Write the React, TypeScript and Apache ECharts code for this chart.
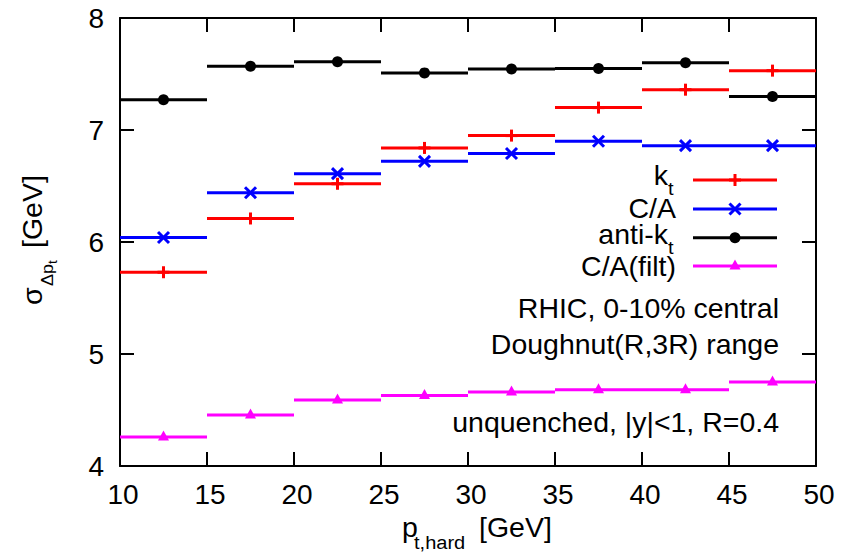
import React, { useEffect, useRef } from "react";
import * as echarts from "echarts";

const binLow = [10, 15, 20, 25, 30, 35, 40, 45];
const binHigh = [15, 20, 25, 30, 35, 40, 45, 50];
const ktValues = [5.73, 6.21, 6.52, 6.84, 6.95, 7.2, 7.36, 7.53];
const caValues = [6.04, 6.44, 6.61, 6.72, 6.79, 6.9, 6.86, 6.86];
const antiKtValues = [7.27, 7.57, 7.61, 7.51, 7.545, 7.55, 7.6, 7.3];
const caFiltValues = [4.26, 4.455, 4.59, 4.63, 4.66, 4.68, 4.68, 4.75];

const FONT = '"Liberation Sans", Arial, sans-serif';
const FS = 27;
const SUB = 19;
const STRETCH = 1.055;

type Marker = "plus" | "cross" | "circle" | "triangle";

function markerEls(kind: Marker, cx: number, cy: number, color: string): any[] {
  const lw = 3;
  if (kind === "plus") {
    return [
      { type: "line", shape: { x1: cx - 6, y1: cy, x2: cx + 6, y2: cy }, style: { stroke: color, lineWidth: lw } },
      { type: "line", shape: { x1: cx, y1: cy - 6, x2: cx, y2: cy + 6 }, style: { stroke: color, lineWidth: lw } },
    ];
  }
  if (kind === "cross") {
    const h = 5.5;
    return [
      { type: "line", shape: { x1: cx - h, y1: cy - h, x2: cx + h, y2: cy + h }, style: { stroke: color, lineWidth: lw } },
      { type: "line", shape: { x1: cx - h, y1: cy + h, x2: cx + h, y2: cy - h }, style: { stroke: color, lineWidth: lw } },
    ];
  }
  if (kind === "circle") {
    return [{ type: "circle", shape: { cx, cy, r: 5.5 }, style: { fill: color } }];
  }
  return [
    {
      type: "polygon",
      shape: { points: [[cx, cy - 6.5], [cx - 5.5, cy + 3.5], [cx + 5.5, cy + 3.5]] },
      style: { fill: color },
    },
  ];
}

function makeSeries(name: string, values: number[], color: string, kind: Marker) {
  return {
    type: "custom",
    name,
    xAxisIndex: 0,
    yAxisIndex: 0,
    data: values.map((v, i) => [binLow[i], binHigh[i], v]),
    encode: { x: [0, 1], y: 2 },
    renderItem: (params: any, api: any) => {
      const p1 = api.coord([api.value(0), api.value(2)]);
      const p2 = api.coord([api.value(1), api.value(2)]);
      const cx = (p1[0] + p2[0]) / 2;
      const cy = p1[1];
      return {
        type: "group",
        children: [
          { type: "line", shape: { x1: p1[0], y1: cy, x2: p2[0], y2: cy }, style: { stroke: color, lineWidth: 3 } },
          ...markerEls(kind, cx, cy, color),
        ],
      };
    },
  };
}

function txt(text: string, x: number, y: number, size: number, align: string = "left"): any {
  return {
    type: "text",
    x,
    y,
    scaleX: STRETCH,
    style: { text, fill: "#000", fontSize: size, fontFamily: FONT, align, verticalAlign: "middle" },
  };
}

function legendSample(y: number, color: string, kind: Marker): any {
  return {
    type: "group",
    children: [
      { type: "line", shape: { x1: 693, y1: y, x2: 777, y2: y }, style: { stroke: color, lineWidth: 3 } },
      ...markerEls(kind, 735, y, color),
    ],
  };
}

export default function App() {
  const ref = useRef<HTMLDivElement>(null);
  useEffect(() => {
    if (!ref.current) return;
    const chart = echarts.init(ref.current, null, { renderer: "svg" });
    const axisCommon = {
      axisLine: { show: true, onZero: false, lineStyle: { color: "#000", width: 2 } },
      axisTick: { show: true, inside: true, length: 14, lineStyle: { color: "#000", width: 2 } },
      splitLine: { show: false },
    };
    chart.setOption({
      animation: false,
      backgroundColor: "#fff",
      grid: { left: 120, right: 34, top: 18, bottom: 89, containLabel: false },
      xAxis: [
        {
          type: "value",
          position: "bottom",
          min: 10,
          max: 50,
          interval: 5,
          ...axisCommon,
          axisLabel: { fontSize: 28, fontFamily: FONT, color: "#000", margin: 14, padding: [0, 0, 0, 6] },
        },
        {
          type: "value",
          position: "top",
          min: 10,
          max: 50,
          interval: 5,
          ...axisCommon,
          axisLabel: { show: false },
        },
      ],
      yAxis: [
        {
          type: "value",
          position: "left",
          min: 4,
          max: 8,
          interval: 1,
          ...axisCommon,
          axisLabel: { fontSize: 28, fontFamily: FONT, color: "#000", margin: 16 },
        },
        {
          type: "value",
          position: "right",
          min: 4,
          max: 8,
          interval: 1,
          ...axisCommon,
          axisLabel: { show: false },
        },
      ],
      series: [
        makeSeries("kt", ktValues, "#ff0000", "plus"),
        makeSeries("C/A", caValues, "#0000ff", "cross"),
        makeSeries("anti-kt", antiKtValues, "#000000", "circle"),
        makeSeries("C/A(filt)", caFiltValues, "#ff00ff", "triangle"),
      ],
      graphic: [
        // legend
        txt("k", 668, 175.5, FS, "right"),
        txt("t", 668, 188.4, SUB, "left"),
        legendSample(180, "#ff0000", "plus"),
        txt("C/A", 676, 209, FS, "right"),
        legendSample(209, "#0000ff", "cross"),
        txt("anti-k", 668, 234.5, FS, "right"),
        txt("t", 668, 247.4, SUB, "left"),
        legendSample(237.7, "#000000", "circle"),
        txt("C/A(filt)", 676, 267, FS, "right"),
        legendSample(266, "#ff00ff", "triangle"),
        // annotations
        txt("RHIC, 0-10% central", 779, 308.8, FS, "right"),
        txt("Doughnut(R,3R) range", 779, 344.5, FS, "right"),
        txt("unquenched, |y|<1, R=0.4", 779, 422.5, FS, "right"),
        // x axis name
        txt("p", 402, 527.5, FS, "left"),
        txt("t,hard", 414, 542.4, SUB, "left"),
        txt("[GeV]", 479, 527.5, FS, "left"),
        // y axis name
        {
          type: "group",
          x: 42,
          y: 305,
          rotation: Math.PI / 2,
          children: [
            txt("σ", 0, -9.5, FS, "left"),
            txt("Δp", 19, 4.8, 17, "left"),
            txt("t", 41, 11.1, 13, "left"),
            txt("[GeV]", 57, -9.5, FS, "left"),
          ],
        },
      ],
    });
    return () => chart.dispose();
  }, []);
  return (
    <div
      ref={ref}
      style={{ position: "fixed", left: 0, top: 0, width: 850, height: 555, background: "#fff" }}
    />
  );
}
